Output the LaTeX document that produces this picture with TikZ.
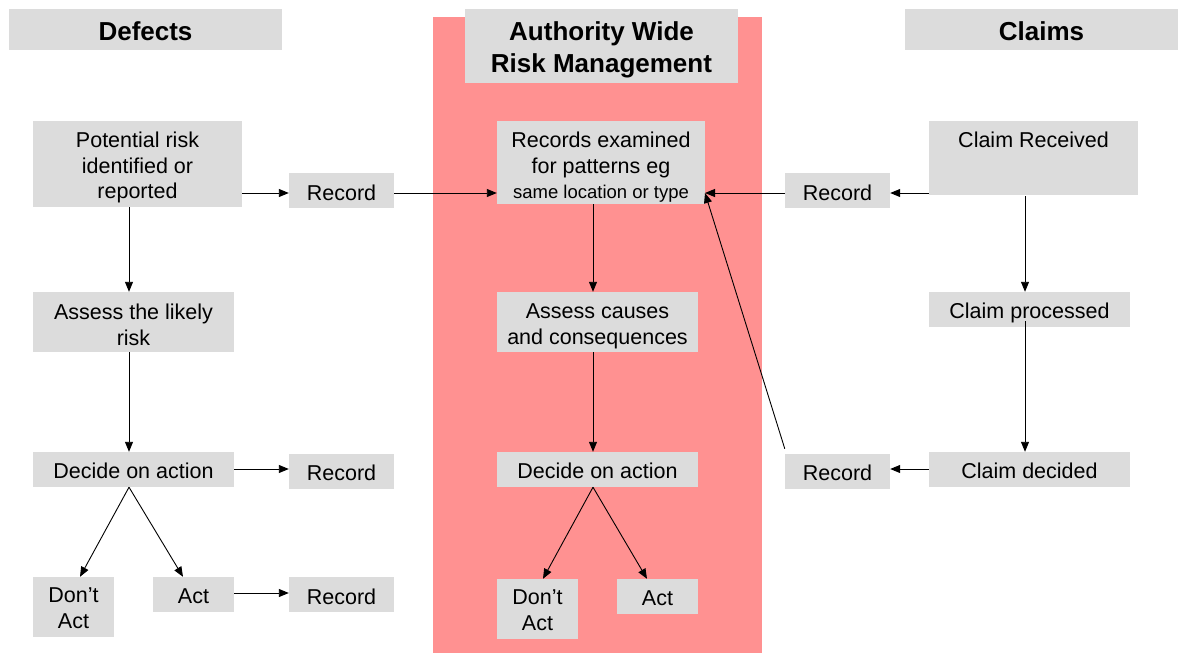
\documentclass[tikz,border=0pt]{standalone}
\usepackage{fontspec}
\setmainfont{Liberation Sans}
\usetikzlibrary{arrows.meta}
\definecolor{boxgray}{RGB}{220,220,220}
\definecolor{pinkbg}{RGB}{255,145,145}
\begin{document}
\begin{tikzpicture}[x=1pt,y=-1pt,
  bodyfont/.style={font=\fontsize{21.5}{25.5}\selectfont},
  box/.style={fill=boxgray, inner sep=0pt, align=center, bodyfont},
  head/.style={fill=boxgray, inner sep=0pt, align=center},
  lbl/.style={inner sep=0pt, align=center, bodyfont},
  hlbl/.style={inner sep=0pt, align=center, font=\fontsize{26}{32}\selectfont\bfseries},
  txt/.style 2 args={label={[lbl, yshift=-#1pt]center:{#2}}},
  htxt/.style 2 args={label={[hlbl, yshift=-#1pt]center:{#2}}},
  sz/.style 2 args={minimum width=#1pt, minimum height=#2pt},
  arr/.style={-{Triangle[length=10pt,width=8pt]}, line width=0.9pt}]
\useasboundingbox (0,0) rectangle (1178,653);
\fill[pinkbg] (433,17) rectangle (762,653);

% headers
\node[head, sz={273}{41}, htxt={2}{Defects}] (hdef) at (145.5,29.5) {};
\node[head, sz={273}{73.5}, htxt={4}{Authority Wide\\Risk Management}] (hawr) at (601.5,45.75) {};
\node[head, sz={273}{41}, htxt={2}{Claims}] (hcla) at (1041.5,29.5) {};

% row 1
\node[box, sz={209}{86}, txt={3.5}{Potential risk\\identified or\\reported}] (pot) at (137.5,164) {};
\node[box, sz={105}{35}, txt={2.5}{Record}] (rec1) at (341.5,190.5) {};
\node[box, sz={208}{83}, txt={5}{Records examined\\for patterns eg\\{\fontsize{18.5}{25.5}\selectfont same location or type}}] (rex) at (601,162.5) {};
\node[box, sz={105}{35}, txt={2.5}{Record}] (rect) at (837.5,190.5) {};
\node[box, minimum width=209pt, text height=26.5pt, text depth=47.5pt] (crec) at (1033.5,158) {Claim Received};

% row 2
\node[box, sz={201}{60}, txt={3}{Assess the likely\\risk}] (asl) at (133.5,322) {};
\node[box, sz={201}{60}, txt={4.5}{Assess causes\\and consequences}] (asc) at (597.5,322) {};
\node[box, sz={201}{35}, txt={3}{Claim processed}] (cpro) at (1029.5,309.5) {};

% row 3
\node[box, sz={201}{35}, txt={1}{Decide on action}] (decl) at (133.5,469.5) {};
\node[box, sz={105}{35}, txt={1.5}{Record}] (rec2) at (341.5,471.5) {};
\node[box, sz={201}{35}, txt={1}{Decide on action}] (decm) at (597.5,469.5) {};
\node[box, sz={105}{35}, txt={1.5}{Record}] (recr) at (837.5,471.5) {};
\node[box, sz={201}{35}, txt={1}{Claim decided}] (cdec) at (1029.5,469.5) {};

% row 4
\node[box, sz={81}{60}, txt={1}{Don’t\\Act}] (dal) at (73.5,607) {};
\node[box, sz={81}{35}, txt={2}{Act}] (actl) at (193.5,594.5) {};
\node[box, sz={105}{35}, txt={2}{Record}] (rec3) at (341.5,594.5) {};
\node[box, sz={81}{60}, txt={1}{Don’t\\Act}] (dam) at (537.5,609) {};
\node[box, sz={81}{35}, txt={2}{Act}] (actm) at (657.5,596.5) {};

% helper coordinates
\coordinate (colL) at (129,0);
\coordinate (colM) at (593,0);
\coordinate (colR) at (1025,0);
\coordinate (rowA) at (0,193);
\coordinate (rowB) at (0,469);
\coordinate (rowC) at (0,593);
\coordinate (reR) at (705,193);

% horizontal connectors
\draw[arr] (pot.east |- rowA) -- (rec1.west |- rowA);
\draw[arr] (rec1.east |- rowA) -- (rex.west |- rowA);
\draw[arr] (rect.west |- rowA) -- (reR);
\draw[arr] (crec.west |- rowA) -- (rect.east |- rowA);
\draw[arr] (decl.east |- rowB) -- (rec2.west |- rowB);
\draw[arr] (actl.east |- rowC) -- (rec3.west |- rowC);
\draw[arr] (cdec.west |- rowB) -- (recr.east |- rowB);

% vertical connectors
\draw[arr] (pot.south -| colL) -- (asl.north -| colL);
\draw[arr] (asl.south -| colL) -- (decl.north -| colL);
\draw[arr] (rex.south -| colM) -- (asc.north -| colM);
\draw[arr] (asc.south -| colM) -- (decm.north -| colM);
\draw[arr] ([yshift=-1pt]crec.south -| colR) -- (cpro.north -| colR);
\draw[arr] (colR |- 0,321) -- (cdec.north -| colR);

% diagonal connectors
\draw[arr] (decl.south -| colL) -- ([xshift=6.5pt]dal.north);
\draw[arr] (decl.south -| colL) -- ([xshift=-10.5pt]actl.north);
\draw[arr] (decm.south -| colM) -- ([xshift=5.5pt]dam.north);
\draw[arr] (decm.south -| colM) -- ([xshift=-10.5pt]actm.north);
\draw[arr] ([yshift=5pt]recr.north west) -- (reR);
\end{tikzpicture}
\end{document}
